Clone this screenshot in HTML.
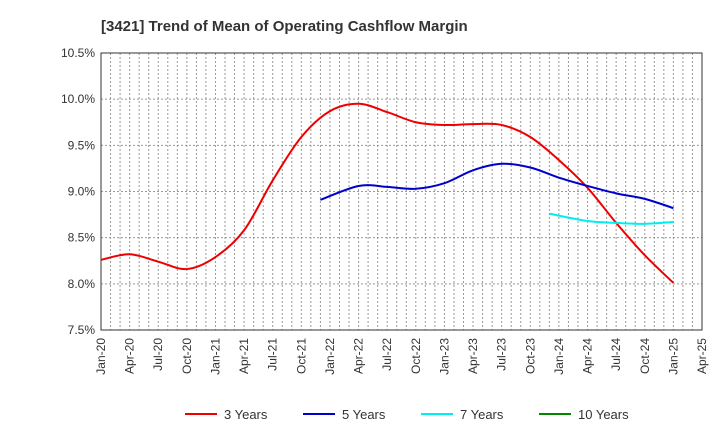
<!DOCTYPE html>
<html><head><meta charset="utf-8"><style>
body{margin:0;background:#fff;font-family:"Liberation Sans",sans-serif}
</style></head><body>
<svg id="chart" width="720" height="440" xmlns="http://www.w3.org/2000/svg" font-family="Liberation Sans, sans-serif">
<text x="101" y="31" font-size="15" font-weight="bold" fill="#333">[3421]  Trend of Mean of Operating Cashflow Margin</text>
<g id="grid"></g><g id="axes"></g><g id="series"></g><g id="legend"></g>
</svg>
<script>
const xLabels=["Jan-20","Apr-20","Jul-20","Oct-20","Jan-21","Apr-21","Jul-21","Oct-21","Jan-22","Apr-22","Jul-22","Oct-22","Jan-23","Apr-23","Jul-23","Oct-23","Jan-24","Apr-24","Jul-24","Oct-24","Jan-25","Apr-25"];
const yTicks=[7.5,8.0,8.5,9.0,9.5,10.0,10.5];
// month index since Jan-20 (0 = Jan-20)
const s3Months=[0,3,6,9,12,15,18,21,24,27,30,33,36,39,42,45,48,51,54,57,60];
const s3=[8.26,8.32,8.24,8.16,8.29,8.58,9.12,9.59,9.87,9.95,9.86,9.75,9.72,9.73,9.72,9.59,9.34,9.04,8.66,8.31,8.01];
const s5Months=[23,27,30,33,36,39,42,45,48,51,54,57,60];
const s5=[8.91,9.06,9.05,9.03,9.09,9.23,9.30,9.26,9.15,9.06,8.98,8.92,8.82];
const s7Months=[47,51,54,57,60];
const s7=[8.76,8.68,8.66,8.65,8.67];
const s10Months=[];
const s10=[];
const NS="http://www.w3.org/2000/svg";
const L=101,R=702,T=53,B=330;
const NM=(xLabels.length-1)*3;
const X=m=>L+(R-L)*m/NM;
const Y=v=>B-(v-7.5)/(10.5-7.5)*(B-T);
function mk(tag,attrs,parent){const e=document.createElementNS(NS,tag);for(const k in attrs)e.setAttribute(k,attrs[k]);parent.appendChild(e);return e;}
const grid=document.getElementById('grid'),axes=document.getElementById('axes'),series=document.getElementById('series'),legend=document.getElementById('legend');
for(let m=1;m<NM;m++){const x=X(m);
const g=mk('line',{x1:x,x2:x,y1:T,y2:B,stroke:'#999','stroke-dasharray':'2,2','stroke-width':1},grid);

}
yTicks.forEach(v=>{const y=Y(v);
const g=mk('line',{x1:L,x2:R,y1:y,y2:y,stroke:'#999','stroke-dasharray':'2,2','stroke-width':1},grid);


const t=mk('text',{x:L-6,y:y+4,'text-anchor':'end','font-size':12,fill:'#333'},axes);t.textContent=v.toFixed(1)+'%';

});
xLabels.forEach((lab,i)=>{const x=X(i*3);
const t=mk('text',{x:0,y:0,transform:`translate(${x+4},${B+8}) rotate(-90)`,'text-anchor':'end','font-size':12,fill:'#333'},axes);t.textContent=lab;

});
const frame=mk('rect',{x:L,y:T,width:R-L,height:B-T,fill:'none',stroke:'#333','stroke-width':1},axes);


function path(months,vals){const p=vals.map((v,i)=>[X(months[i]),Y(v)]);if(p.length<2)return '';
let d=`M${p[0][0]},${p[0][1]}`;
for(let i=0;i<p.length-1;i++){const p0=p[i-1]||p[i],p1=p[i],p2=p[i+1],p3=p[i+2]||p2;
d+=` C${p1[0]+(p2[0]-p0[0])/6},${p1[1]+(p2[1]-p0[1])/6} ${p2[0]-(p3[0]-p1[0])/6},${p2[1]-(p3[1]-p1[1])/6} ${p2[0]},${p2[1]}`;}
return d;}
[[s3Months,s3,'#e00','series-3-years'],[s5Months,s5,'#00c','series-5-years'],[s7Months,s7,'#0ee','series-7-years'],[s10Months,s10,'#080','series-10-years']].forEach(([m,v,c,n])=>{
if(!v.length)return;const e=mk('path',{d:path(m,v),fill:'none',stroke:c,'stroke-width':2},series);

});
[['3 Years','#e00',185],['5 Years','#00c',303],['7 Years','#0ee',421],['10 Years','#080',539]].forEach(([t,c,x])=>{
const g=mk('g',{},legend);


mk('line',{x1:x,x2:x+32,y1:414,y2:414,stroke:c,'stroke-width':2},g);
const tx=mk('text',{x:x+39,y:419,'font-size':13,fill:'#333'},g);tx.textContent=t;});
</script>
</body></html>
